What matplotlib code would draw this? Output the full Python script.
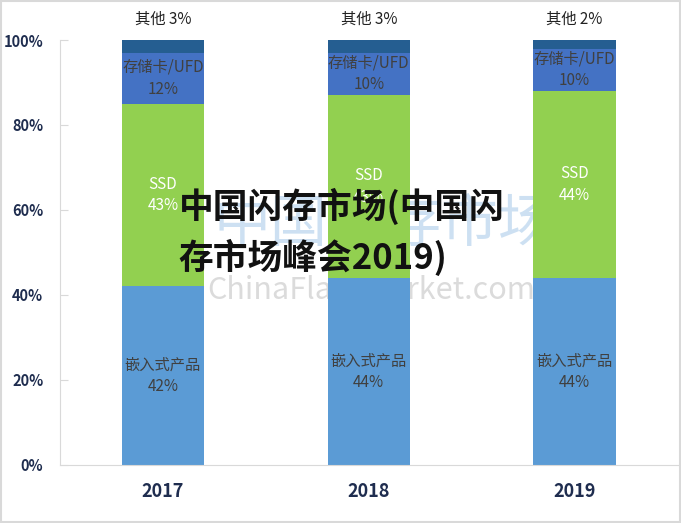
import numpy as np
import matplotlib
matplotlib.use('Agg')
import matplotlib.pyplot as plt

plt.rcParams['font.family'] = ['Noto Sans CJK SC', 'DejaVu Sans']

years = ['2017', '2018', '2019']
segments = ['嵌入式产品', 'SSD', '存储卡/UFD', '其他']
embedded = [42, 44, 44]
ssd = [43, 43, 44]
card = [12, 10, 10]
other = [3, 3, 2]
colors = ['#5B9BD5', '#92D050', '#4472C4', '#255E91']
label_colors = ['#404040', 'white', '#404040', None]

fig = plt.figure(figsize=(6.81, 5.23), dpi=100)
ax = fig.add_axes([0.088, 0.111, 0.907, 0.8125])

x = np.arange(len(years))
series = [embedded, ssd, card, other]
bottom = np.zeros(len(years))
for name, vals, col, lc in zip(segments, series, colors, label_colors):
    vals = np.array(vals, dtype=float)
    ax.bar(x, vals, 0.4, bottom=bottom, color=col, zorder=2)
    for i in range(len(years)):
        if lc is not None:
            ax.text(x[i], bottom[i] + vals[i] / 2, '%s\n%d%%' % (name, vals[i]),
                    ha='center', va='center', color=lc, fontsize=11, linespacing=1.35,
                    zorder=3)
        else:
            ax.text(x[i], 104.8, '%s %d%%' % (name, vals[i]), ha='center', va='center',
                    color='#222222', fontsize=11, clip_on=False)
    bottom += vals

ax.set_xlim(-0.5, 2.5)
ax.set_ylim(0, 100)
ax.set_yticks([0, 20, 40, 60, 80, 100])
ax.set_yticklabels(['0%', '20%', '40%', '60%', '80%', '100%'], fontsize=10.5,
                   fontweight='bold', color='#1F2D4F')
ax.set_xticks(x)
ax.set_xticklabels(years, fontsize=13, fontweight='bold', color='#1F2D4F')
ax.tick_params(axis='x', length=0, pad=12)
ax.tick_params(axis='y', length=6, direction='in', color='#D9D9D9', pad=12)
for s in ['top', 'right']:
    ax.spines[s].set_visible(False)
for s in ['left', 'bottom']:
    ax.spines[s].set_color('#D9D9D9')
ax.spines['left'].set_zorder(3)

# watermarks behind the bars
ax.text(0.565, 0.57, '中国闪存市场', transform=fig.transFigure, fontsize=41,
        color='#5B9BD5', alpha=0.3, ha='center', va='center', style='italic', zorder=1)
ax.text(0.545, 0.445, 'ChinaFlashMarket.com', transform=fig.transFigure, fontsize=22,
        color='#999999', alpha=0.35, ha='center', va='center', style='italic', zorder=1)
# overlaid title
fig.text(0.262, 0.557, '中国闪存市场(中国闪\n存市场峰会2019)', fontsize=25, fontweight='heavy',
         color='#111111', ha='left', va='center', linespacing=1.45)

fig.patches.append(plt.Rectangle((0.001, 0.001), 0.997, 0.997, transform=fig.transFigure,
                                 fill=False, edgecolor='#D9D9D9', linewidth=1.5))

fig.savefig('out.png', dpi=100)
